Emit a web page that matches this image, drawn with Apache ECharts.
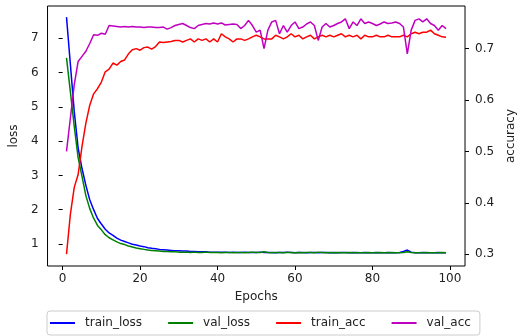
<!DOCTYPE html>
<html>
<head>
<meta charset="utf-8">
<script src="https://cdn.jsdelivr.net/npm/echarts@6/dist/echarts.min.js"></script>
<style>
html,body{margin:0;padding:0;background:#fff;}
#chart{width:525px;height:336px;}
</style>
</head>
<body>
<div id="chart"></div>
<script>
var epochs = [];
for (var e = 1; e <= 99; e++) epochs.push(e);

var trainLoss = [
7.62,6.24,4.86,3.80,3.20,2.71,2.29,2.00,1.74,1.58,
1.43,1.32,1.25,1.17,1.11,1.07,1.03,0.99,0.97,0.94,
0.92,0.89,0.87,0.86,0.84,0.83,0.82,0.81,0.80,0.80,
0.79,0.79,0.78,0.78,0.77,0.77,0.77,0.76,0.76,0.76,
0.76,0.76,0.75,0.76,0.75,0.75,0.76,0.75,0.75,0.75,
0.76,0.75,0.75,0.75,0.74,0.75,0.75,0.76,0.75,0.74,
0.75,0.75,0.74,0.75,0.75,0.74,0.75,0.75,0.74,0.75,
0.74,0.75,0.75,0.74,0.75,0.74,0.74,0.75,0.74,0.74,
0.75,0.74,0.74,0.75,0.74,0.74,0.75,0.78,0.82,0.76,
0.74,0.74,0.75,0.74,0.74,0.74,0.75,0.74,0.74];

var valLoss = [
6.43,5.44,4.43,3.52,2.97,2.41,2.03,1.75,1.54,1.41,
1.27,1.18,1.12,1.06,1.01,0.98,0.94,0.91,0.88,0.86,
0.84,0.82,0.81,0.80,0.79,0.78,0.78,0.77,0.77,0.76,
0.76,0.76,0.75,0.76,0.75,0.75,0.76,0.75,0.75,0.75,
0.74,0.75,0.75,0.74,0.75,0.75,0.74,0.75,0.76,0.75,
0.75,0.77,0.75,0.74,0.75,0.75,0.74,0.75,0.75,0.74,
0.75,0.74,0.75,0.75,0.74,0.76,0.75,0.74,0.75,0.74,
0.75,0.74,0.74,0.75,0.74,0.75,0.74,0.74,0.75,0.74,
0.74,0.75,0.74,0.74,0.75,0.74,0.74,0.75,0.77,0.75,
0.74,0.74,0.74,0.75,0.74,0.74,0.74,0.75,0.74];

var trainAcc = [
0.300,0.378,0.430,0.455,0.510,0.555,0.590,0.612,0.622,0.635,
0.655,0.660,0.672,0.668,0.675,0.678,0.690,0.698,0.700,0.697,
0.702,0.703,0.699,0.704,0.713,0.712,0.713,0.714,0.716,0.716,
0.713,0.716,0.719,0.713,0.719,0.716,0.719,0.713,0.719,0.713,
0.729,0.723,0.719,0.713,0.719,0.719,0.716,0.719,0.723,0.726,
0.723,0.719,0.719,0.719,0.726,0.723,0.719,0.723,0.729,0.723,
0.726,0.719,0.723,0.726,0.719,0.723,0.726,0.723,0.726,0.723,
0.726,0.729,0.723,0.726,0.723,0.726,0.719,0.726,0.723,0.723,
0.726,0.723,0.723,0.726,0.723,0.723,0.723,0.726,0.723,0.729,
0.732,0.729,0.732,0.732,0.736,0.729,0.726,0.723,0.722];

var valAcc = [
0.500,0.565,0.630,0.675,0.685,0.695,0.710,0.727,0.726,0.730,
0.728,0.745,0.744,0.743,0.742,0.743,0.742,0.743,0.742,0.742,
0.741,0.742,0.742,0.741,0.741,0.742,0.738,0.741,0.745,0.747,
0.749,0.745,0.741,0.739,0.745,0.747,0.749,0.748,0.750,0.748,
0.750,0.746,0.747,0.748,0.747,0.739,0.745,0.755,0.745,0.732,
0.736,0.700,0.736,0.752,0.755,0.729,0.745,0.732,0.745,0.752,
0.739,0.742,0.748,0.752,0.745,0.716,0.742,0.749,0.742,0.745,
0.749,0.752,0.758,0.739,0.752,0.745,0.758,0.749,0.752,0.749,
0.745,0.748,0.752,0.749,0.750,0.752,0.749,0.742,0.690,0.736,
0.755,0.758,0.752,0.758,0.749,0.745,0.736,0.745,0.739];

var xTicks = [0, 20, 40, 60, 80, 100];
var lossTicks = [1, 2, 3, 4, 5, 6, 7];
var accTicks = [0.3, 0.4, 0.5, 0.6, 0.7];

function pairs(vals) {
  return epochs.map(function (ep, i) { return [ep, vals[i]]; });
}

var font = 'DejaVu Sans';
var chart = echarts.init(document.getElementById('chart'), null, {renderer: 'canvas'});
chart.setOption({
  animation: false,
  backgroundColor: '#ffffff',
  grid: {left: 47, right: 46, top: 6, bottom: 70, show: true, borderColor: '#000', borderWidth: 1, backgroundColor: 'transparent'},
  legend: {
    data: ['train_loss', 'val_loss', 'train_acc', 'val_acc'],
    left: 47, top: 311,
    icon: 'rect', itemWidth: 25, itemHeight: 2, itemGap: 26,
    padding: [6, 9, 6, 3],
    borderColor: '#cccccc', borderWidth: 1, borderRadius: 3,
    textStyle: {fontFamily: font, fontSize: 12, color: '#222', padding: [0, 0, 0, 5]}
  },
  xAxis: {
    type: 'value', min: -3.9, max: 103.9,
    name: 'Epochs', nameLocation: 'middle', nameGap: 25,
    nameTextStyle: {fontFamily: font, fontSize: 12, color: '#222'},
    axisLine: {show: false},
    axisTick: {show: true, length: 4, lineStyle: {color: '#000'}, customValues: xTicks},
    axisLabel: {fontFamily: font, fontSize: 12, color: '#222', margin: 7, customValues: xTicks},
    splitLine: {show: false}
  },
  yAxis: [{
    type: 'value', position: 'left', min: 0.355, max: 7.945,
    name: 'loss', nameLocation: 'middle', nameGap: 22, nameRotate: 90,
    nameTextStyle: {fontFamily: font, fontSize: 12, color: '#222'},
    axisLine: {show: false},
    axisTick: {show: true, length: 4, lineStyle: {color: '#000'}, customValues: lossTicks},
    axisLabel: {fontFamily: font, fontSize: 12, color: '#222', margin: 9, customValues: lossTicks},
    splitLine: {show: false}
  }, {
    type: 'value', position: 'right', min: 0.277, max: 0.783,
    name: 'accuracy', nameLocation: 'middle', nameGap: 32, nameRotate: 90,
    nameTextStyle: {fontFamily: font, fontSize: 12, color: '#222'},
    axisLine: {show: false},
    axisTick: {show: true, length: 4, lineStyle: {color: '#000'}, customValues: accTicks},
    axisLabel: {fontFamily: font, fontSize: 12, color: '#222', margin: 10, customValues: accTicks,
      formatter: function (v) { return v.toFixed(1); }},
    splitLine: {show: false}
  }],
  series: [
    {name: 'train_loss', type: 'line', yAxisIndex: 0, data: pairs(trainLoss), showSymbol: false, symbol: 'none', color: '#0000ff', lineStyle: {width: 1.5, color: '#0000ff'}},
    {name: 'val_loss', type: 'line', yAxisIndex: 0, data: pairs(valLoss), showSymbol: false, symbol: 'none', color: '#008000', lineStyle: {width: 1.5, color: '#008000'}},
    {name: 'train_acc', type: 'line', yAxisIndex: 1, data: pairs(trainAcc), showSymbol: false, symbol: 'none', color: '#ff0000', lineStyle: {width: 1.5, color: '#ff0000'}},
    {name: 'val_acc', type: 'line', yAxisIndex: 1, data: pairs(valAcc), showSymbol: false, symbol: 'none', color: '#c000c0', lineStyle: {width: 1.5, color: '#c000c0'}}
  ]
});
</script>
</body>
</html>
